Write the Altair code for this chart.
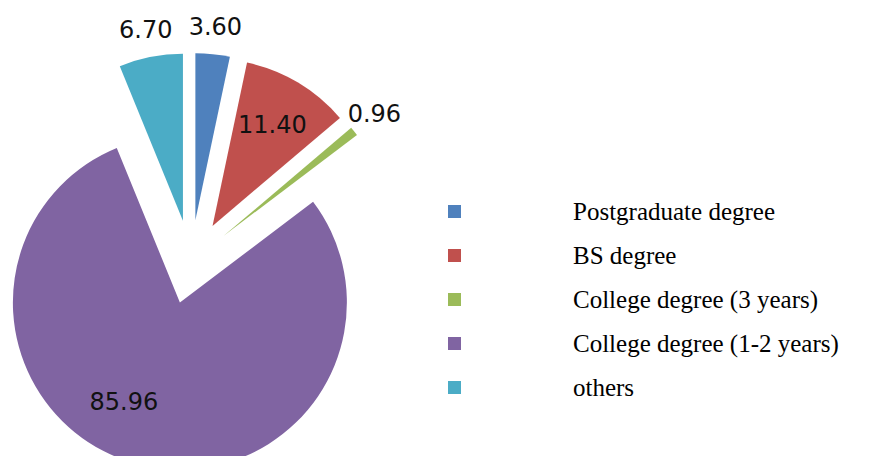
import altair as alt
import pandas as pd

categories = ["Postgraduate degree", "BS degree", "College degree (3 years)",
              "College degree (1-2 years)", "others"]
values = [3.60, 11.40, 0.96, 85.96, 6.70]
colors = ["#4F81BD", "#C0504D", "#9BBB59", "#8064A2", "#4BACC6"]

df = pd.DataFrame({"category": categories, "value": values, "idx": list(range(len(values)))})

CX, CY, R, EXPLODE = 183, 254, 167, 42

base = alt.Chart(df).transform_joinaggregate(
    total="sum(value)"
).transform_window(
    cum="sum(value)", sort=[alt.SortField("idx")], frame=[None, 0]
).transform_calculate(
    t0="(datum.cum - datum.value) / datum.total * 2 * PI",
    t1="datum.cum / datum.total * 2 * PI",
).transform_calculate(
    mid="(datum.t0 + datum.t1) / 2",
).transform_calculate(
    cx=f"{CX} + {EXPLODE} * sin(datum.mid)",
    cy=f"{CY} - {EXPLODE} * cos(datum.mid)",
    lr=f"datum.value > 50 ? {R * 0.69} : datum.value > 10 ? {R * 0.7} : {R + 26}",
    la="datum.value > 50 ? datum.mid + 0.24 : datum.mid",
).transform_calculate(
    lx="datum.cx + datum.lr * sin(datum.la)",
    ly="datum.cy - datum.lr * cos(datum.la)",
)

arcs = base.mark_arc(radius=R).encode(
    theta=alt.Theta("t0:Q", scale=None),
    theta2=alt.Theta2("t1:Q"),
    x=alt.X("cx:Q", scale=None),
    y=alt.Y("cy:Q", scale=None),
    color=alt.Color(
        "category:N",
        scale=alt.Scale(domain=categories, range=colors),
        legend=alt.Legend(
            title=None, orient="none", legendX=434, legendY=191,
            symbolType="square", symbolSize=169, symbolStrokeWidth=0,
            labelFont="Liberation Serif", labelFontSize=25, labelColor="#000",
            labelOffset=106, rowPadding=18, padding=0, labelLimit=400,
        ),
    ),
)

labels = base.mark_text(font="DejaVu Sans", fontSize=24, color="#111",
                        align="center", baseline="middle").encode(
    x=alt.X("lx:Q", scale=None),
    y=alt.Y("ly:Q", scale=None),
    text=alt.Text("value:Q", format=".2f"),
)

chart = alt.layer(arcs, labels).properties(
    width=862, height=448, padding=0, autosize="none"
).configure_view(stroke=None)

chart.save("out.html", embed_options={"renderer": "svg", "actions": False})
